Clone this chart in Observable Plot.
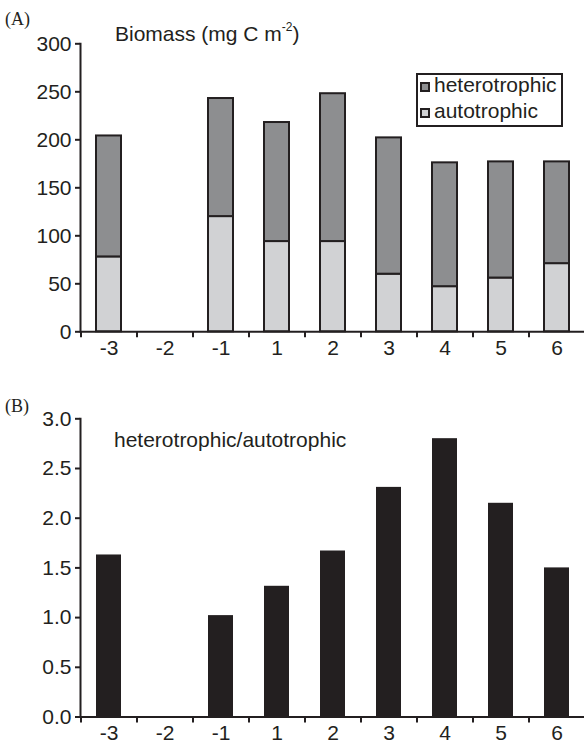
<!DOCTYPE html>
<html>
<head>
<meta charset="utf-8">
<script src="https://cdn.jsdelivr.net/npm/d3@7"></script>
<script src="https://cdn.jsdelivr.net/npm/@observablehq/plot@0.6"></script>
<style>
  html, body { margin: 0; padding: 0; background: #fff; }
  body { font-family: "Liberation Sans", Arial, Helvetica, sans-serif; color: #231f20; }
  #wrap { position: relative; width: 584px; height: 744px; overflow: hidden; }
  .panel { position: absolute; left: 0; }
  .tag { position: absolute; font-family: "Liberation Serif", "Times New Roman", serif; font-size: 18px; line-height: 18px; white-space: nowrap; }
  .title { position: absolute; font-size: 21px; line-height: 21px; white-space: nowrap; }
  .title sup { font-size: 12px; position: relative; top: -2px; vertical-align: top; line-height: 12px; }
  .legend { position: absolute; border: 2px solid #231f20; box-sizing: border-box; background: #fff; }
  .legend .sw { position: absolute; width: 10px; height: 10px; box-sizing: border-box; border: 2px solid #231f20; }
  .legend .lt { position: absolute; font-size: 21px; line-height: 21px; white-space: nowrap; }
</style>
</head>
<body>
<div id="wrap"></div>
<script>
// ---- data ----
const periods = ["-3", "-2", "-1", "1", "2", "3", "4", "5", "6"];
const autotrophic   = [78, null, 120, 94, 94, 60, 47, 56, 71];
const heterotrophic = [126, null, 123, 124, 154, 142, 129, 121, 106];
const ratio = [1.63, null, 1.02, 1.315, 1.67, 2.31, 2.80, 2.15, 1.50];
const yTicksA = [0, 50, 100, 150, 200, 250, 300];
const yTicksB = [0, 0.5, 1.0, 1.5, 2.0, 2.5, 3.0];
const groups = ["autotrophic", "heterotrophic"];
const groupColors = ["#d1d2d4", "#8d8e90"];
const legendOrder = ["heterotrophic", "autotrophic"];

const ink = "#231f20";
const FS = 21;

// table for stacked bars (autotrophic at bottom)
const tableA = [];
periods.forEach((p, i) => {
  if (autotrophic[i] != null) tableA.push({period: p, group: "autotrophic", value: autotrophic[i]});
  if (heterotrophic[i] != null) tableA.push({period: p, group: "heterotrophic", value: heterotrophic[i]});
});
const tableB = periods.map((p, i) => ({period: p, value: ratio[i]})).filter(d => d.value != null);

const xScale = {type: "band", domain: periods, paddingInner: 0.56, paddingOuter: 0.28};
const step = 504 / periods.length;

const wrap = document.getElementById("wrap");

// ---- Panel A ----
const plotA = Plot.plot({
  width: 584, height: 372,
  marginLeft: 80, marginRight: 0, marginTop: 43.3, marginBottom: 40.7,
  style: {color: ink, background: "transparent", fontFamily: "'Liberation Sans', Arial, sans-serif"},
  x: xScale,
  y: {domain: [0, 300]},
  color: {domain: groups, range: groupColors},
  marks: [
    Plot.barY(tableA, {x: "period", y: "value", fill: "group", stroke: ink, strokeWidth: 2}),
    Plot.frame({anchor: "left", stroke: ink, strokeWidth: 2}),
    Plot.ruleY([0], {stroke: ink, strokeWidth: 2}),
    Plot.ruleX(periods, {x: d => d, y1: 0, y2: 0, insetBottom: -6, dx: -step / 2, stroke: ink, strokeWidth: 2}),
    Plot.axisY({ticks: yTicksA, label: null, tickSize: 5, tickPadding: 4, fontSize: FS, stroke: ink, strokeWidth: 2, fill: ink}),
    Plot.axisX({label: null, tickSize: 0, tickPadding: 8, fontSize: FS, fill: ink})
  ]
});
plotA.classList.add("panel");
plotA.style.top = "0px";
wrap.appendChild(plotA);

// ---- Panel B ----
const plotB = Plot.plot({
  width: 584, height: 372,
  marginLeft: 80, marginRight: 0, marginTop: 46.3, marginBottom: 27.5,
  style: {color: ink, background: "transparent", fontFamily: "'Liberation Sans', Arial, sans-serif"},
  x: xScale,
  y: {domain: [0, 3]},
  marks: [
    Plot.barY(tableB, {x: "period", y: "value", fill: ink}),
    Plot.frame({anchor: "left", stroke: ink, strokeWidth: 2}),
    Plot.ruleY([0], {stroke: ink, strokeWidth: 2}),
    Plot.ruleX(periods, {x: d => d, y1: 0, y2: 0, insetBottom: -6, dx: -step / 2, stroke: ink, strokeWidth: 2}),
    Plot.axisY({ticks: yTicksB, label: null, tickFormat: d3.format(".1f"), tickSize: 5, tickPadding: 4, fontSize: FS, stroke: ink, strokeWidth: 2, fill: ink}),
    Plot.axisX({label: null, tickSize: 0, tickPadding: 8, fontSize: FS, fill: ink})
  ]
});
plotB.classList.add("panel");
plotB.style.top = "372px";
wrap.appendChild(plotB);

// ---- text overlays ----
function addDiv(cls, html, left, top) {
  const d = document.createElement("div");
  d.className = cls;
  d.innerHTML = html;
  d.style.left = left + "px";
  d.style.top = top + "px";
  wrap.appendChild(d);
  return d;
}
addDiv("tag", "(A)", 5, 10);
addDiv("tag", "(B)", 5, 397);
addDiv("title", "Biomass (mg C m<sup>-2</sup>)", 115, 23);
addDiv("title", "heterotrophic/autotrophic", 114, 429);

// legend
const lg = document.createElement("div");
lg.className = "legend";
lg.style.left = "416px"; lg.style.top = "73px";
lg.style.width = "147px"; lg.style.height = "54px";
legendOrder.forEach((g, k) => {
  const sw = document.createElement("div");
  sw.className = "sw";
  sw.style.left = "2px";
  sw.style.top = (7 + 26 * k) + "px";
  sw.style.background = groupColors[groups.indexOf(g)];
  lg.appendChild(sw);
  const t = document.createElement("div");
  t.className = "lt";
  t.textContent = g;
  t.style.left = "16px";
  t.style.top = (-1 + 26 * k) + "px";
  lg.appendChild(t);
});
wrap.appendChild(lg);
</script>
</body>
</html>
